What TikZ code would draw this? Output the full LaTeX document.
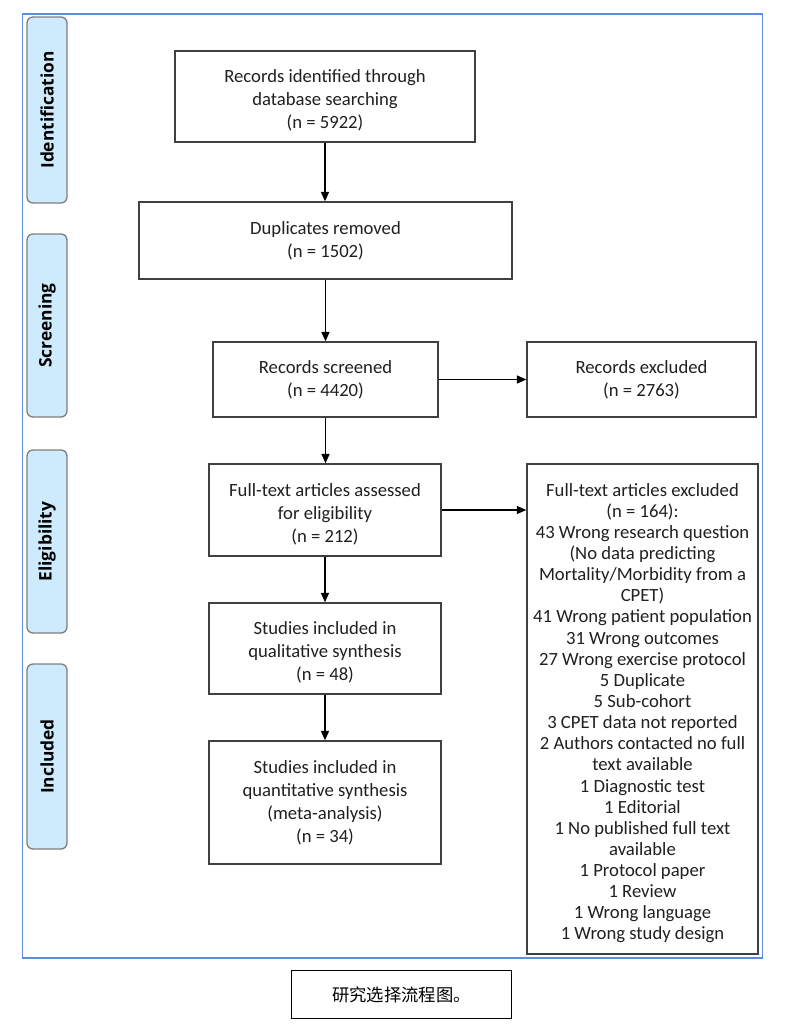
\documentclass[tikz,border=0pt]{standalone}
\usepackage{fontspec}
\setmainfont{Carlito}
\newfontfamily\sidefont{Open Sans}
\newfontfamily\cjk{Noto Sans CJK SC}
\usetikzlibrary{arrows.meta}
\definecolor{boxline}{HTML}{404040}
\definecolor{sidefill}{HTML}{CDEBFC}
\definecolor{sideline}{HTML}{7F7F7F}
\definecolor{outerblue}{HTML}{5B8EE0}
\definecolor{textc}{HTML}{202020}
\newcommand\topgap{\rule{0pt}{16pt}}
\tikzset{
  flowbox/.style={draw=boxline, line width=1.1pt, fill=white, align=center, inner sep=2pt,
    text=textc, font=\fontsize{14}{17.25}\selectfont},
  sidebox/.style={draw=sideline, line width=1pt, fill=sidefill, rounded corners=4.5pt,
    rotate=90, minimum height=30pt, inner sep=0pt,
    font=\sidefont\bfseries\fontsize{13}{15}\selectfont},
  flowarrow/.style={draw=black, line width=1pt, -{Triangle[length=7pt,width=6pt]}}
}
\begin{document}
\begin{tikzpicture}[x=0.75pt,y=-0.75pt]
\useasboundingbox (0,0) rectangle (787,1025);
% outer frame
\node[draw=outerblue, line width=0.8pt, minimum width=555pt, minimum height=708pt, inner sep=0pt] (frame) at (392.5,486) {};
% side labels
\node[sidebox, minimum width=139.5pt] (sid) at (47,110) {Identification};
\node[sidebox, minimum width=137.25pt] (ssc) at (47,325.5) {Screening};
\node[sidebox, minimum width=137.25pt] (sel) at (47,541.5) {Eligibility};
\node[sidebox, minimum width=138.75pt] (sin) at (47,756.5) {Included};
% flow boxes
\node[flowbox, minimum width=225pt, minimum height=68.25pt] (rid) at (325,96.5)
  {\topgap Records identified through\\database searching\\(n = 5922)};
\node[flowbox, minimum width=279.75pt, minimum height=57.75pt] (dup) at (325.5,240.5)
  {Duplicates removed\\(n = 1502)};
\node[flowbox, minimum width=168.75pt, minimum height=56.25pt] (scr) at (325.5,379.5)
  {Records screened\\(n = 4420)};
\node[flowbox, minimum width=171.75pt, minimum height=56.25pt] (rex) at (641.5,379.5)
  {Records excluded\\(n = 2763)};
\node[flowbox, minimum width=174pt, minimum height=69pt] (fta) at (325,510)
  {\topgap Full-text articles assessed\\for eligibility\\(n = 212)};
\node[flowbox, minimum width=173.25pt, minimum height=367.5pt,
  font=\fontsize{14}{15.85}\selectfont] (fex) at (642.5,709)
  {\topgap Full-text articles excluded\\(n = 164):\\43 Wrong research question\\(No data predicting\\Mortality/Morbidity from a\\CPET)\\41 Wrong patient population\\31 Wrong outcomes\\27 Wrong exercise protocol\\5 Duplicate\\5 Sub-cohort\\3 CPET data not reported\\2 Authors contacted no full\\text available\\1 Diagnostic test\\1 Editorial\\1 No published full text\\available\\1 Protocol paper\\1 Review\\1 Wrong language\\1 Wrong study design};
\node[flowbox, minimum width=174pt, minimum height=68.25pt] (qual) at (325,648.5)
  {\topgap Studies included in\\qualitative synthesis\\(n = 48)};
\node[flowbox, minimum width=174pt, minimum height=92.25pt] (quant) at (325,802.5)
  {Studies included in\\quantitative synthesis\\(meta-analysis)\\(n = 34)};
% arrows
\draw[flowarrow] (rid.south) -- (rid.south |- dup.north);
\draw[flowarrow] (dup.south -| scr.north) -- (scr.north);
\draw[flowarrow] (scr.south) -- (scr.south |- fta.north);
\draw[flowarrow] (fta.south) -- (qual.north);
\draw[flowarrow] (qual.south) -- (quant.north);
\draw[flowarrow] (scr.east) -- (rex.west);
\draw[flowarrow] (fta.east) -- (fta.east -| fex.west);
% caption
\node[draw=black, line width=0.8pt, minimum width=165pt, minimum height=36pt, inner sep=0pt,
  font=\cjk\fontsize{13}{15}\selectfont] (cap) at (401.5,994.5) {研究选择流程图。};
\end{tikzpicture}
\end{document}
